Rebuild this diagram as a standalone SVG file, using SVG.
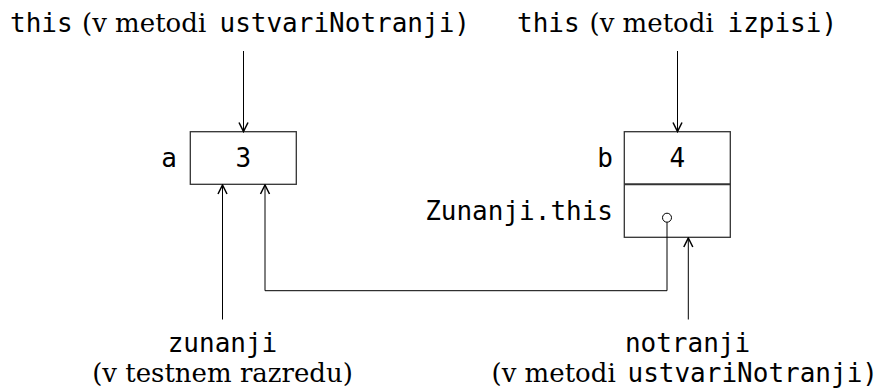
<svg xmlns="http://www.w3.org/2000/svg" width="887" height="389" viewBox="0 0 887 389">
<style>
.mono{font-family:"DejaVu Sans Mono",monospace;font-size:26px;fill:#000}
.serif{font-family:"DejaVu Serif",serif;font-size:26px;fill:#000}
.box{fill:#fff;stroke:#333;stroke-width:1.3}
.div{stroke:#333;stroke-width:2}
.conn{fill:none;stroke:#000;stroke-width:1}
</style>
<defs>
<marker id="arr" markerUnits="userSpaceOnUse" markerWidth="12" markerHeight="12" viewBox="-7 -4 8 8" refX="0" refY="0" orient="auto">
<path d="M-6,-3 L0,0 L-6,3" fill="none" stroke="#000" stroke-width="1"/>
</marker>
</defs>
<rect width="887" height="389" fill="#fff"/>
<g id="label-this-ustvari">
<text y="32"><tspan class="mono" x="10">this</tspan><tspan class="serif" x="82">(v metodi</tspan><tspan class="mono" x="219.5">ustvariNotranji)</tspan></text>
</g>
<g id="label-this-izpisi">
<text y="32"><tspan class="mono" x="517">this</tspan><tspan class="serif" x="589.5">(v metodi</tspan><tspan class="mono" x="727.5">izpisi)</tspan></text>
</g>
<g id="node-a">
<rect class="box" x="190.3" y="131.7" width="106" height="52.6"/>
<text class="mono" x="177" y="167" text-anchor="end">a</text>
<text class="mono" x="243.3" y="167" text-anchor="middle">3</text>
</g>
<g id="node-b">
<rect class="box" x="624.3" y="131.7" width="106" height="105.6"/>
<line class="div" x1="624.3" y1="184.3" x2="730.3" y2="184.3"/>
<text class="mono" x="613" y="167" text-anchor="end">b</text>
<text class="mono" x="677.3" y="167" text-anchor="middle">4</text>
<text class="mono" x="613" y="220" text-anchor="end">Zunanji.this</text>
<circle cx="667" cy="217.7" r="4.5" fill="#fff" stroke="#000" stroke-width="1"/>
</g>
<g id="label-zunanji">
<text class="mono" x="222.5" y="351.7" text-anchor="middle">zunanji</text>
<text class="serif" x="222.5" y="381.7" text-anchor="middle">(v testnem razredu)</text>
</g>
<g id="label-notranji">
<text class="mono" x="687.5" y="351.7" text-anchor="middle">notranji</text>
<text y="381.7"><tspan class="serif" x="491.5">(v metodi</tspan><tspan class="mono" x="627.5">ustvariNotranji)</tspan></text>
</g>
<g id="connectors">
<path class="conn" d="M243.5,51 V131.5" marker-end="url(#arr)"/>
<path class="conn" d="M677.5,51 V131.5" marker-end="url(#arr)"/>
<path class="conn" d="M222.5,319.5 V185" marker-end="url(#arr)"/>
<path class="conn" d="M667,222.2 V290.7 H265 V185" marker-end="url(#arr)"/>
<path class="conn" d="M688.3,319.5 V238" marker-end="url(#arr)"/>
</g>
</svg>
